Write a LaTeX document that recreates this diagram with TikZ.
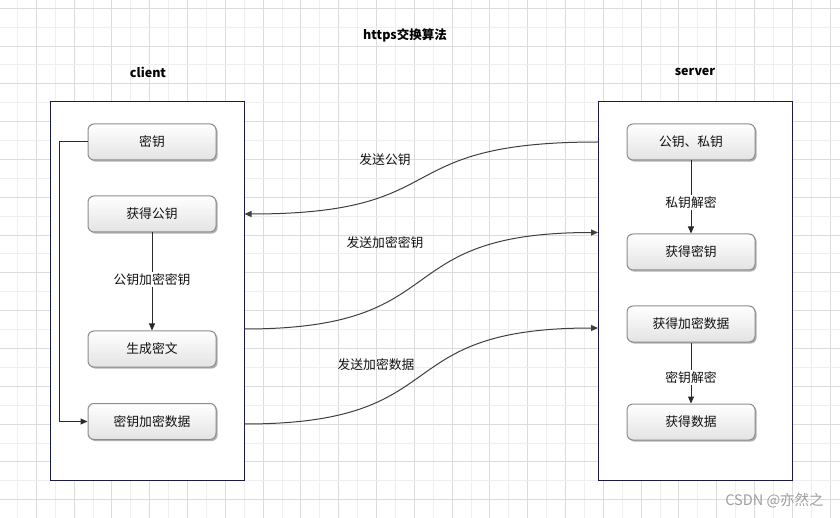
\documentclass[tikz,border=0pt]{standalone}
\usepackage{fontspec}
\setmainfont{Noto Sans CJK SC}
\usetikzlibrary{arrows.meta,shadows,calc}
\definecolor{gridlight}{HTML}{EFEFEF}
\definecolor{griddark}{HTML}{DCDCDC}
\definecolor{navy}{HTML}{1A1A4A}
\definecolor{boxborder}{HTML}{8C8C8C}
\definecolor{boxbottom}{HTML}{E3E3E3}
\definecolor{linec}{HTML}{2A2A2A}
\definecolor{txt}{HTML}{111111}
\tikzset{
  stepbox/.style={draw=boxborder, line width=1pt, rounded corners=6pt,
    top color=white, bottom color=boxbottom, minimum width=128pt, minimum height=36pt,
    inner sep=0pt, font=\fontsize{12.8}{14}\selectfont, text=txt,
    drop shadow={shadow xshift=1.6pt, shadow yshift=-1.6pt, fill=black!30, opacity=1}},
  container/.style={draw=navy, line width=1pt, fill=white, minimum width=193.5pt,
    minimum height=378.5pt, inner sep=0pt},
  arr/.style={draw=linec, line width=1pt, -{Triangle[length=7pt,width=6pt]}},
  elbl/.style={fill=white, inner sep=1.5pt, font=\fontsize{12.8}{14}\selectfont, text=txt},
  flbl/.style={inner sep=0pt, font=\fontsize{12.8}{14}\selectfont, text=txt},
  hdr/.style={inner sep=0pt, font=\fontsize{12.5}{14}\selectfont\bfseries, text=black}
}
\begin{document}
\begin{tikzpicture}[x=1pt,y=-1pt]
\useasboundingbox (0,0) rectangle (840,518);
\fill[white] (0,0) rectangle (840,518);
% grid
\foreach \k in {0,...,44} {
  \pgfmathsetmacro\gx{17.4+18.9*\k}
  \pgfmathtruncatemacro\odd{mod(\k,2)}
  \ifnum\odd=1
    \draw[griddark, line width=1pt] (\gx,0) -- (\gx,518);
  \else
    \draw[gridlight, line width=1pt] (\gx,0) -- (\gx,518);
  \fi
}
\foreach \k in {0,...,27} {
  \pgfmathsetmacro\gy{8.3+18.9*\k}
  \pgfmathtruncatemacro\odd{mod(\k,2)}
  \ifnum\odd=0
    \draw[griddark, line width=1pt] (0,\gy) -- (840,\gy);
  \else
    \draw[gridlight, line width=1pt] (0,\gy) -- (840,\gy);
  \fi
}
% titles
\node[hdr] (title) at (405,35) {https交换算法};
\node[hdr] (clientlbl) at (148,72) {client};
\node[hdr] (serverlbl) at (695,72) {server};
% containers
\node[container] (client) at (147.25,290.75) {};
\node[container] (server) at (695.25,290.75) {};
% client boxes
\node[stepbox] (k1) at (152,142) {密钥};
\node[stepbox] (k2) at (152,214) {获得公钥};
\node[stepbox] (k3) at (152,349) {生成密文};
\node[stepbox] (k4) at (152,421.5) {密钥加密数据};
% server boxes
\node[stepbox] (s1) at (691,142) {公钥、私钥};
\node[stepbox] (s2) at (691,252) {获得密钥};
\node[stepbox] (s3) at (691,324) {获得加密数据};
\node[stepbox] (s4) at (691,422) {获得数据};
% inner connectors
\draw[arr] (k1.west) -- ++(-28,0) |- (k4.west);
\draw[arr] (k2.south) -- node[elbl, pos=0.48] (l1) {公钥加密密钥} (k3.north);
\draw[arr] (s1.south) -- node[elbl, pos=0.57] (l2) {私钥解密} (s2.north);
\draw[arr] (s3.south) -- node[elbl, pos=0.58] (l3) {密钥解密} (s4.north);
% cross connectors
\coordinate (a1) at (server.west |- s1);
\coordinate (b1) at (client.east |- k2);
\coordinate (a2) at (client.east |- 0,329);
\coordinate (b2) at (server.west |- 0,232.5);
\coordinate (a3) at (client.east |- 0,424);
\coordinate (b3) at (server.west |- 0,328);
\draw[arr, draw=linec!90] (a1) .. controls +(-215,0) and +(215,0) .. (b1);
\draw[arr, draw=linec!90] (a2) .. controls +(215,0) and +(-215,0) .. (b2);
\draw[arr, draw=linec!90] (a3) .. controls +(215,0) and +(-215,0) .. (b3);
\node[flbl] (f1) at (385,160) {发送公钥};
\node[flbl] (f2) at (385,243) {发送加密密钥};
\node[flbl] (f3) at (376,365) {发送加密数据};
% watermark
\node[inner sep=0pt, font=\fontsize{14.5}{16}\selectfont, text=black!38] (wm) at (774.5,501) {CSDN @亦然之};
\end{tikzpicture}
\end{document}
